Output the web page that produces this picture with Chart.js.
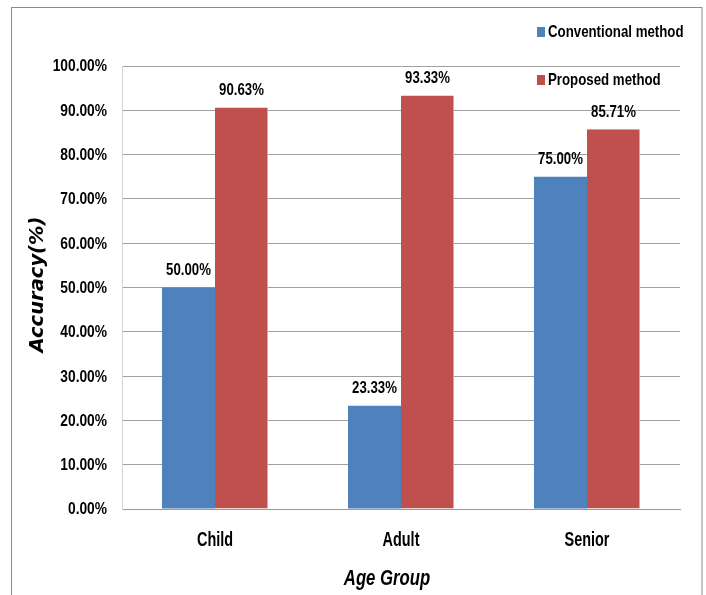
<!DOCTYPE html>
<html>
<head>
<meta charset="utf-8">
<script src="https://cdn.jsdelivr.net/npm/chart.js@4/dist/chart.umd.min.js"></script>
<style>
  html, body { margin: 0; padding: 0; background: #ffffff; }
  #wrap { position: relative; width: 706px; height: 595px; }
</style>
</head>
<body>
<div id="wrap"><canvas id="chart" width="706" height="595"></canvas></div>
<script>
// Accuracy by age group for the two methods
const ageGroups = ['Child', 'Adult', 'Senior'];
const conventionalAccuracy = [50.00, 23.33, 75.00];
const proposedAccuracy = [90.63, 93.33, 85.71];
const seriesNames = ['Conventional method', 'Proposed method'];
const xAxisTitle = 'Age Group';
const yAxisTitle = 'Accuracy(%)';
const yTickStep = 10;

const SANS = '"Liberation Sans", Arial, sans-serif';
const NARROW_X = 0.8; // horizontal squeeze that gives a narrow face

const pct = v => v.toFixed(2) + '%';

// Draws text squeezed horizontally around its anchor point
function narrowText(ctx, text, x, y, font, align, baseline, sx) {
  const s = sx || NARROW_X;
  ctx.save();
  ctx.font = font;
  ctx.fillStyle = '#000000';
  ctx.textAlign = align;
  ctx.textBaseline = baseline;
  ctx.translate(x, y);
  ctx.scale(s, 1);
  ctx.fillText(text, 0, 0);
  ctx.restore();
}

// Gray frame around the whole figure (open at the bottom edge)
const framePlugin = {
  id: 'frame',
  beforeDraw(chart) {
    const ctx = chart.ctx;
    ctx.save();
    ctx.fillStyle = '#ffffff';
    ctx.fillRect(0, 0, chart.width, chart.height);
    ctx.strokeStyle = '#8a8a8a';
    ctx.lineWidth = 1;
    ctx.strokeRect(11.5, 7.5, 690.5, 600);
    ctx.restore();
  }
};

// Axis tick labels and axis titles
const axisTextPlugin = {
  id: 'axisText',
  afterDraw(chart) {
    const ctx = chart.ctx;
    const xs = chart.scales.x, ys = chart.scales.y;
    ys.ticks.forEach(t => {
      narrowText(ctx, pct(t.value), 107, ys.getPixelForValue(t.value) + 1,
        'bold 16px ' + SANS, 'right', 'middle', 0.86);
    });
    chart.data.labels.forEach((lab, i) => {
      narrowText(ctx, lab, xs.getPixelForValue(i), 541,
        'bold 19.5px ' + SANS, 'center', 'middle', 0.74);
    });
    const area = chart.chartArea;
    narrowText(ctx, xAxisTitle, (area.left + area.right) / 2 - 14, 579,
      'italic bold 22px ' + SANS, 'center', 'middle', 0.76);
    ctx.save();
    ctx.translate(38, (area.top + area.bottom) / 2 - 3);
    ctx.rotate(-Math.PI / 2);
    ctx.font = 'italic bold 19.5px "DejaVu Sans", sans-serif';
    ctx.fillStyle = '#000000';
    ctx.textAlign = 'center';
    ctx.textBaseline = 'middle';
    ctx.fillText(yAxisTitle, 0, 0);
    ctx.restore();
  }
};

// Value labels above each bar
const valueLabelPlugin = {
  id: 'valueLabels',
  afterDatasetsDraw(chart) {
    const ctx = chart.ctx;
    chart.data.datasets.forEach((ds, di) => {
      chart.getDatasetMeta(di).data.forEach((bar, i) => {
        narrowText(ctx, pct(ds.data[i]), bar.x, bar.y - 17,
          'bold 16.5px ' + SANS, 'center', 'middle');
      });
    });
  }
};

// Legend stacked in the upper right corner
const legendPlugin = {
  id: 'cornerLegend',
  afterDraw(chart) {
    const ctx = chart.ctx;
    const rows = [32, 80];
    chart.data.datasets.forEach((ds, di) => {
      const y = rows[di];
      ctx.save();
      ctx.fillStyle = ds.backgroundColor;
      ctx.fillRect(537, y - 5, 8, 10);
      ctx.restore();
      narrowText(ctx, ds.label, 548, y, 'bold 17px ' + SANS, 'left', 'middle', 0.78);
    });
  }
};

new Chart(document.getElementById('chart'), {
  type: 'bar',
  data: {
    labels: ageGroups,
    datasets: [
      {
        label: seriesNames[0],
        data: conventionalAccuracy,
        backgroundColor: '#4F81BD',
        borderWidth: 0
      },
      {
        label: seriesNames[1],
        data: proposedAccuracy,
        backgroundColor: '#C0504D',
        borderColor: '#e3a3a1',
        borderWidth: { left: 0, right: 1, top: 0, bottom: 0 },
        borderSkipped: 'bottom'
      }
    ]
  },
  options: {
    responsive: false,
    animation: false,
    devicePixelRatio: 1,
    layout: { padding: { left: 26, right: 26, top: 66, bottom: 8 } },
    plugins: {
      legend: { display: false },
      tooltip: { enabled: false }
    },
    datasets: {
      bar: { categoryPercentage: 0.57, barPercentage: 1.0 }
    },
    scales: {
      x: {
        grid: { display: false, drawTicks: false },
        border: { display: true, color: '#9a9a9a', width: 1 },
        ticks: { display: false },
        afterFit(scale) { scale.height = 595 - 509 - 8; }
      },
      y: {
        min: 0,
        max: 100,
        ticks: { display: false, stepSize: yTickStep },
        grid: { color: '#a0a0a0', lineWidth: 1, drawTicks: false },
        border: { display: true, color: '#d4d4d4', width: 1 },
        afterFit(scale) { scale.width = 122 - 26; }
      }
    }
  },
  plugins: [framePlugin, valueLabelPlugin, axisTextPlugin, legendPlugin]
});
</script>
</body>
</html>
